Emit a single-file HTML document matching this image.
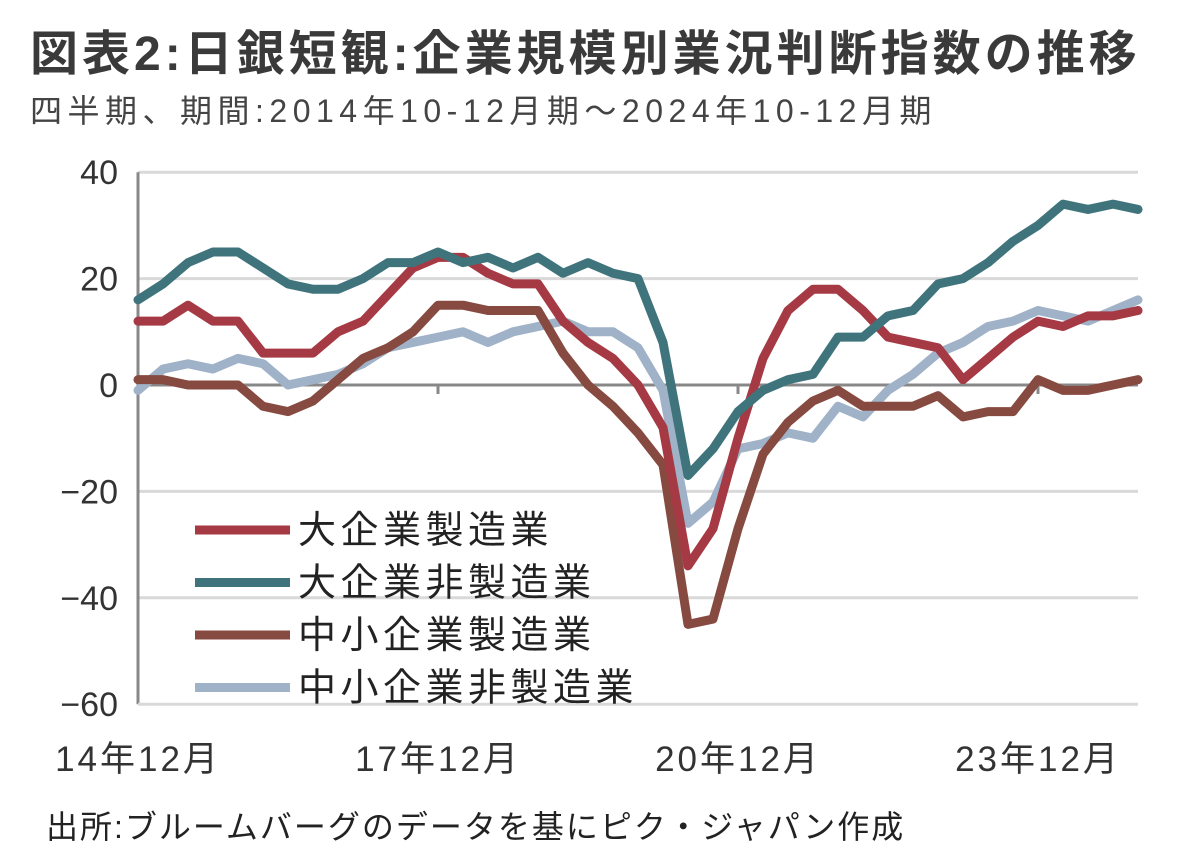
<!DOCTYPE html>
<html><head><meta charset="utf-8"><style>
body{margin:0;background:#fff;width:1200px;height:854px;overflow:hidden;font-family:"Liberation Sans","Noto Sans CJK JP",sans-serif;color:#333}
.t{position:absolute;white-space:nowrap}
</style></head><body>
<div class="t" style="left:30px;top:14px;font-size:48px;font-weight:bold;letter-spacing:4px;color:#3a3a3a">図表2:日銀短観:企業規模別業況判断指数の推移</div>
<div class="t" style="left:30px;top:86px;font-size:32px;letter-spacing:5.5px;color:#444">四半期、期間:2014年10-12月期～2024年10-12月期</div>
<svg id="c" width="1200" height="854" style="position:absolute;left:0;top:0"></svg>
<div class="t" style="left:46px;top:802px;font-size:32px;letter-spacing:2px;color:#222">出所:ブルームバーグのデータを基にピク・ジャパン作成</div>
<script>
const xLabels=["14年12月","17年12月","20年12月","23年12月"];
const yTicks=[40,20,0,-20,-40,-60];
const seriesNames=["大企業製造業","大企業非製造業","中小企業製造業","中小企業非製造業"];
const largeMfg=[12,12,15,12,12,6,6,6,10,12,17,22,24,24,21,19,19,12,8,5,0,-8,-34,-27,-10,5,14,18,18,14,9,8,7,1,5,9,12,11,13,13,14];
const largeNonMfg=[16,19,23,25,25,22,19,18,18,20,23,23,25,23,24,22,24,21,23,21,20,8,-17,-12,-5,-1,1,2,9,9,13,14,19,20,23,27,30,34,33,34,33];
const smallMfg=[1,1,0,0,0,-4,-5,-3,1,5,7,10,15,15,14,14,14,6,0,-4,-9,-15,-45,-44,-27,-13,-7,-3,-1,-4,-4,-4,-2,-6,-5,-5,1,-1,-1,0,1];
const smallNonMfg=[-1,3,4,3,5,4,0,1,2,4,7,8,9,10,8,10,11,12,10,10,7,-1,-26,-22,-12,-11,-9,-10,-4,-6,-1,2,6,8,11,12,14,13,12,14,16];
const colors=["#a63a44","#3f747c","#874a40","#9fb2c8"];
const NS="http://www.w3.org/2000/svg";
const svg=document.getElementById('c');
const X0=138,X1=1138;
const n=largeMfg.length;
const x=i=>X0+i*(X1-X0)/(n-1);
const y=v=>385-v*(532/100);
function el(t,a){const e=document.createElementNS(NS,t);for(const k in a)e.setAttribute(k,a[k]);svg.appendChild(e);return e;}
yTicks.forEach(v=>{
  if(v!==0&&v!==-60){const g=el('line',{x1:X0,x2:X1,y1:y(v),y2:y(v),stroke:'#d9d9d9','stroke-width':3});
  
  }
  const t=el('text',{x:118,y:y(v)+12,'text-anchor':'end','font-size':34,fill:'#333','font-family':'Liberation Sans, sans-serif'});
  t.textContent=v<0?'−'+(-v):String(v);
  
  
});
const ax=el('line',{x1:X0,x2:X0,y1:y(40),y2:y(-60),stroke:'#888','stroke-width':3});


const zx=el('line',{x1:X0,x2:X1,y1:y(0),y2:y(0),stroke:'#888','stroke-width':3});


const bx=el('line',{x1:X0,x2:X1,y1:y(-60),y2:y(-60),stroke:'#d9d9d9','stroke-width':3});


xLabels.forEach((l,k)=>{
  const i=k*12;
  if(k>0){const tk=el('line',{x1:x(i),x2:x(i),y1:y(0),y2:y(0)+9,stroke:'#888','stroke-width':3});
  
  }
  const t=el('text',{x:x(i),y:771,'text-anchor':'middle','font-size':35,'letter-spacing':3,fill:'#333','font-family':'Liberation Sans, Noto Sans CJK JP, sans-serif'});
  t.textContent=l;
  
  
});
[3,2,0,1].forEach(s=>{
  const d=[largeMfg,largeNonMfg,smallMfg,smallNonMfg][s];
  const p=el('polyline',{points:d.map((v,i)=>x(i)+','+y(v)).join(' '),fill:'none',stroke:colors[s],'stroke-width':9,'stroke-linejoin':'round','stroke-linecap':'round'});
  
  
});
seriesNames.forEach((nm,s)=>{
  const ly=530+s*52.5;
  const ln=el('line',{x1:195,x2:290,y1:ly,y2:ly,stroke:colors[s],'stroke-width':9});
  
  
  const t=el('text',{x:298,y:ly+13,'font-size':38,'letter-spacing':4.5,fill:'#222','font-family':'Liberation Sans, Noto Sans CJK JP, sans-serif'});
  t.textContent=nm;
  
  
});
</script>
</body></html>
